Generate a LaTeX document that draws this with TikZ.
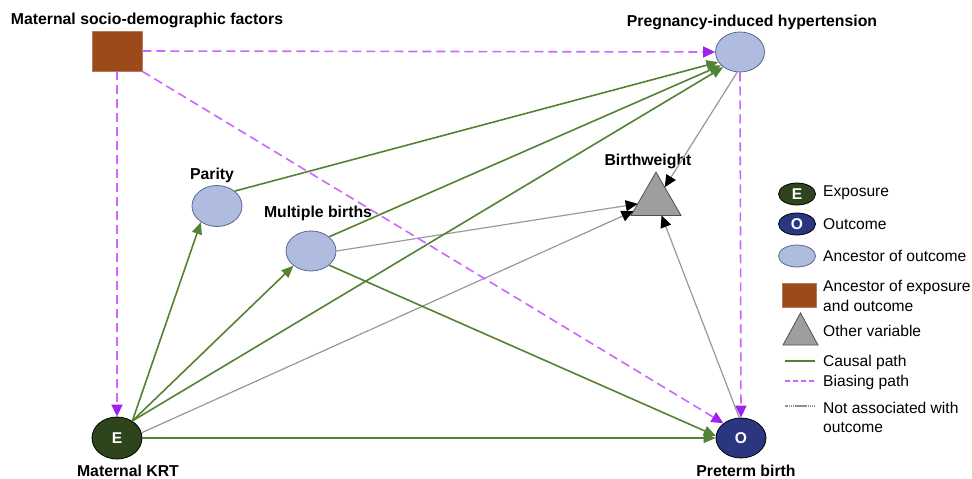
\documentclass[tikz,border=0pt]{standalone}
\usepackage{fontspec}
\setmainfont{Liberation Sans}
\usetikzlibrary{arrows.meta,shapes.geometric}
\definecolor{causal}{RGB}{84,130,53}
\definecolor{bias}{RGB}{204,102,255}
\definecolor{biashead}{RGB}{160,32,240}
\definecolor{noassoc}{RGB}{145,145,145}
\definecolor{anc}{RGB}{176,187,224}
\definecolor{ancdraw}{RGB}{90,104,150}
\definecolor{expo}{RGB}{46,68,28}
\definecolor{outc}{RGB}{42,54,128}
\definecolor{conf}{RGB}{156,74,26}
\definecolor{confdraw}{RGB}{185,120,90}
\definecolor{other}{RGB}{158,158,158}
\definecolor{otherdraw}{RGB}{80,80,80}
\begin{document}
\begin{tikzpicture}[x=1pt,y=-1pt,
  lbl/.style={font=\fontsize{15.8}{18}\selectfont\bfseries, inner sep=0},
  legtext/.style={font=\fontsize{15.6}{18}\selectfont, anchor=west, inner sep=0, align=left},
  ancnode/.style={ellipse, fill=anc, draw=ancdraw, line width=0.8pt, minimum width=50pt, minimum height=41pt, inner sep=0},
  exponode/.style={ellipse, fill=expo, draw=black, line width=0.8pt, minimum width=50pt, minimum height=42pt, inner sep=0, text=white, font=\fontsize{15.6}{18}\selectfont\bfseries},
  outnode/.style={ellipse, fill=outc, draw=black, line width=0.8pt, minimum width=50pt, minimum height=40pt, inner sep=0, text=white, font=\fontsize{15.6}{18}\selectfont\bfseries},
  confnode/.style={rectangle, fill=conf, draw=confdraw, line width=0.8pt, minimum width=50pt, minimum height=40pt, inner sep=0},
  othernode/.style={regular polygon, regular polygon sides=3, fill=other, draw=otherdraw, line width=0.8pt, minimum size=57.7pt, inner sep=0, outer sep=0},
  causedge/.style={draw=causal, line width=1.6pt, -{Triangle[length=12pt,width=10pt]}},
  biasedge/.style={draw=bias, line width=1.6pt, dash pattern=on 9pt off 5pt, -{Triangle[length=12pt,width=11pt,color=biashead]}},
  grayedge/.style={draw=noassoc, line width=1.2pt, dash pattern=on 1.5pt off 0.4pt, -{Triangle[length=12pt,width=11pt,color=black]}},
]
\fill[white] (0,0) rectangle (972,479);
\useasboundingbox (0,0) rectangle (972,479);

% main nodes
\node[confnode] (sq) at (117,51) {};
\node[ancnode, minimum width=49pt, minimum height=40pt] (pih) at (740,52) {};
\node[ancnode] (par) at (217,206) {};
\node[ancnode, minimum height=40pt] (mb) at (311,251) {};
\node[othernode] (bw) at (656,201) {};
\node[exponode] (e) at (117,438) {E};
\node[outnode] (o) at (741,438) {O};

% labels
\node[lbl] (sqlbl) at (147,20) {Maternal socio-demographic factors};
\node[lbl] (pihlbl) at (752,22) {Pregnancy-induced hypertension};
\node[lbl] (bwlbl) at (648,161) {Birthweight};
\node[lbl] (parlbl) at (212,175) {Parity};
\node[lbl] (mblbl) at (318,213) {Multiple births};
\node[lbl] (elbl) at (128,471) {Maternal KRT};
\node[lbl] (olbl) at (746,471) {Preterm birth};

% gray edges
\draw[grayedge] (pih.262) -- (bw);
\draw[grayedge] (mb.east) -- (bw);
\draw[grayedge] (e.12) -- (bw);
\draw[grayedge] (o.95) -- (bw);

% causal edges
\draw[causedge] (par.40) -- (pih.205);
\draw[causedge] (mb.38) -- (pih.215);
\draw[causedge] (e.48) -- (pih.222);
\draw[causedge] (e.48) -- (par.225);
\draw[causedge] (e.48) -- (mb.220);
\draw[causedge] (mb.-38) -- (o.175);
\draw[causedge] (e.east) -- (o.west);

% biasing edges
\draw[biasedge] (sq.east) -- (pih.west);
\draw[biasedge] (sq.south) -- (e.north);
\draw[biasedge] (sq.south east) -- (o.140);
\draw[biasedge] (pih.south) -- (o.north);

% legend
\node[exponode, minimum width=37pt, minimum height=22pt] (lge) at (797,194) {E};
\node[legtext] (lgetxt) at (823,193) {Exposure};
\node[outnode, minimum width=37pt, minimum height=22pt] (lgo) at (797,224) {O};
\node[legtext] (lgotxt) at (823,224) {Outcome};
\node[ancnode, minimum width=37pt, minimum height=22pt] (lga) at (797,256) {};
\node[legtext] (lgatxt) at (823,256) {Ancestor of outcome};
\node[confnode, minimum width=34pt, minimum height=24pt] (lgc) at (799,295) {};
\node[legtext] (lgctxt1) at (823,287) {Ancestor of exposure};
\node[legtext] (lgctxt2) at (823,306) {and outcome};
\filldraw[fill=other, draw=otherdraw, line width=0.8pt] (800.5,313) -- (818,345) -- (783,345) -- cycle;
\node[legtext] (lgttxt) at (823,331) {Other variable};
\coordinate (lcl) at (785,361);
\coordinate (lcr) at (815,361);
\draw[draw=causal, line width=1.6pt] (lcl) -- (lcr);
\node[legtext] (lcausal) at (823,362) {Causal path};
\coordinate (lbl1) at (785,381);
\coordinate (lbr) at (815,381);
\draw[draw=bias, line width=1.4pt, dash pattern=on 5pt off 3pt] (lbl1) -- (lbr);
\node[legtext] (lbias) at (823,382) {Biasing path};
\coordinate (lnl) at (785,406);
\coordinate (lnr) at (815,406);
\draw[draw=noassoc, line width=1.2pt, dash pattern=on 1.5pt off 0.4pt] (lnl) -- (lnr);
\node[legtext] (lna1) at (823,408) {Not associated with};
\node[legtext] (lna2) at (823,428) {outcome};
\end{tikzpicture}
\end{document}
